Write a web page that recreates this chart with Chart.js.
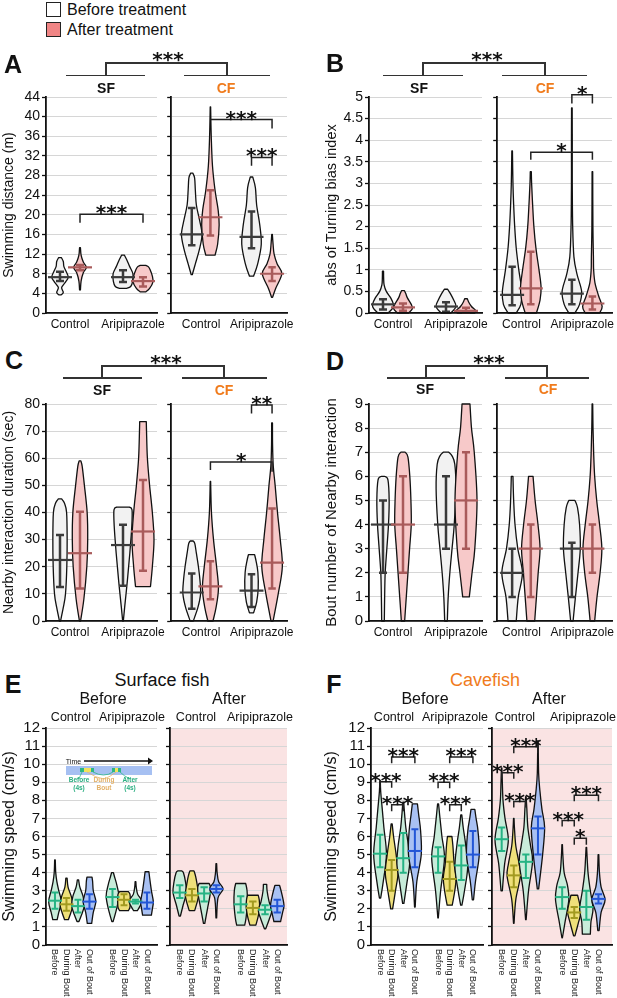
<!DOCTYPE html>
<html>
<head>
<meta charset="utf-8">
<title>Aripiprazole violin plots</title>
<script src="https://cdn.jsdelivr.net/npm/chart.js@4.4.1/dist/chart.umd.min.js"></script>
<style>
  body { margin: 0; background: #fff; }
  #fig { position: relative; width: 617px; height: 998px; overflow: hidden; font-family: "Liberation Sans", Arial, sans-serif; color: #111; }
  #fig canvas { position: absolute; }
  .t { position: absolute; white-space: nowrap; line-height: 1; transform: translate(-50%, -50%); }
  .stars { font-family: "DejaVu Sans", sans-serif; font-weight: bold; }
  .ln { position: absolute; background: #333; }
  .box { position: absolute; width: 13px; height: 13px; border: 1.5px solid #222; }
</style>
</head>
<body>
<div id="fig"></div>
<script>
// Violin plots: before / after aripiprazole treatment, surface fish (SF) vs cavefish (CF)

const groups = ['Control', 'Aripiprazole'];
const phases = ['Before', 'During Bout', 'After', 'Out of Bout'];

// Panels A-D: order is SF ctrl before, SF ctrl after, SF ari before, SF ari after, then the same for CF
// violin shapes are [value, relative width] from min to max

// A - swimming distance (m)
const distShapes = [
  [[3.7,0.1],[4.2,0.3],[5.2,0.15],[6.3,0.5],[7.3,0.75],[8.5,0.55],[9.5,0.35],[10.5,0.3],[11.3,0.12]],
  [[4.7,0.04],[6.5,0.1],[8.2,0.3],[9.3,0.58],[10.4,0.3],[11.8,0.1],[13.3,0.04]],
  [[5,0.3],[5.4,0.7],[6.5,0.88],[8,0.9],[9.5,0.6],[10.8,0.35],[11.8,0.12]],
  [[4.3,0.25],[5,0.6],[6.3,0.9],[7.5,0.85],[8.8,0.65],[9.4,0.5],[9.7,0.25]],
  [[7.8,0.05],[10,0.35],[13,0.75],[16,1.0],[19,0.75],[22,0.45],[25,0.35],[27.5,0.28],[28.5,0.1]],
  [[11.8,0.45],[14,0.7],[18,0.85],[21,0.75],[25,0.45],[30,0.2],[36,0.08],[42,0.02]],
  [[7.5,0.2],[10,0.6],[14,0.95],[18,0.8],[22,0.5],[25.5,0.38],[27.7,0.12]],
  [[3.2,0.05],[5,0.35],[8,0.95],[10,0.5],[12,0.2],[14,0.1],[16,0.03]]
];
const distMedian = [7.3, 9.3, 7.3, 6.5, 16, 19.5, 15.5, 8];
const distQ1 = [6.5, 8.7, 6.3, 5.4, 13.8, 15.8, 13.2, 6.5];
const distQ3 = [8.4, 9.8, 8.7, 7.3, 21.4, 25, 20.7, 9.3];
// significance: [from, to, bar level, left end, right end, label]
const distSig = [[1,3,20.1,18.4,18.4,'***'],[5,7,39.4,39.4,37.6,'***'],[6,7,31.7,30,30,'***']];

// B - abs of turning bias index
const biasShapes = [
  [[0,0.45],[0.1,0.85],[0.2,0.95],[0.35,0.7],[0.5,0.3],[0.65,0.1],[0.8,0.06],[0.97,0.05]],
  [[0,0.5],[0.1,0.85],[0.2,0.75],[0.35,0.4],[0.45,0.25],[0.52,0.12]],
  [[0,0.45],[0.15,0.9],[0.3,0.7],[0.45,0.4],[0.55,0.15]],
  [[0,0.8],[0.05,0.9],[0.15,0.5],[0.25,0.25],[0.33,0.12]],
  [[0,0.4],[0.2,0.85],[0.5,0.95],[1,0.65],[1.5,0.4],[2,0.25],[2.5,0.15],[3,0.08],[3.75,0.03]],
  [[0,0.55],[0.3,0.9],[0.6,1.0],[1,0.8],[1.5,0.5],[2,0.3],[2.5,0.18],[3,0.08],[3.27,0.05]],
  [[0,0.3],[0.2,0.75],[0.5,0.95],[0.9,0.5],[1.3,0.2],[2,0.08],[3,0.04],[4,0.04],[4.75,0.03]],
  [[0,0.7],[0.15,0.95],[0.4,0.6],[0.7,0.25],[1,0.12],[1.3,0.1],[2,0.05],[3.27,0.03]]
];
const biasMedian = [0.2, 0.13, 0.15, 0.05, 0.42, 0.57, 0.45, 0.22];
const biasQ1 = [0.08, 0.05, 0.03, 0.01, 0.18, 0.2, 0.2, 0.08];
const biasQ3 = [0.32, 0.22, 0.25, 0.12, 1.07, 1.42, 0.77, 0.38];
const biasSig = [[6,7,5.05,4.85,4.85,'*'],[5,7,3.72,3.55,3.55,'*']];

// C - nearby interaction duration (sec)
const durShapes = [
  [[0,0.05],[5,0.3],[10,0.5],[20,0.62],[30,0.65],[40,0.6],[43.5,0.4],[45,0.15]],
  [[0,0.05],[8,0.35],[20,0.62],[30,0.7],[40,0.65],[50,0.4],[57,0.2],[59,0.08]],
  [[0,0.03],[5,0.15],[15,0.4],[25,0.62],[35,0.8],[41,0.82],[42,0.55]],
  [[12.7,0.68],[20,0.85],[30,1.0],[40,0.85],[50,0.6],[60,0.4],[70,0.32],[73.5,0.3]],
  [[0,0.15],[5,0.6],[10,0.86],[15,0.8],[20,0.65],[25,0.45],[28.5,0.3],[29.5,0.15]],
  [[0,0.25],[5,0.55],[12,0.78],[20,0.6],[30,0.3],[40,0.1],[51.5,0.02]],
  [[3,0.2],[7,0.5],[12,0.65],[18,0.62],[22,0.45],[24.5,0.3]],
  [[0,0.1],[10,0.6],[20,1.0],[30,0.8],[40,0.53],[50,0.3],[57,0.12],[65,0.05],[73,0.04]]
];
const durMedian = [22.5, 25, 28, 33, 10.5, 12.8, 11.2, 21.5];
const durQ1 = [12.5, 12, 13, 18.5, 4.5, 8, 5.2, 12];
const durQ3 = [31.7, 40.3, 35.5, 52, 17.5, 22, 17.2, 41.5];
const durSig = [[6,7,79.6,76.5,76.5,'**'],[5,7,58.6,55.7,55,'*']];

// D - bout number of nearby interaction
const boutShapes = [
  [[0,0.12],[1,0.15],[2,0.2],[3,0.35],[4,0.5],[5,0.56],[5.85,0.45],[6,0.15]],
  [[0,0.15],[1,0.3],[2,0.45],[3,0.6],[4,0.75],[5,0.72],[6,0.62],[6.8,0.45],[7,0.2]],
  [[0,0.12],[1,0.2],[2,0.35],[3,0.55],[4,0.75],[5.5,0.9],[6.5,0.8],[6.85,0.55],[7,0.25]],
  [[1,0.3],[2,0.55],[3,0.8],[5,1.0],[7,0.75],[8,0.5],[9,0.36]],
  [[0,0.4],[1,0.6],[2,1.0],[3,0.55],[4,0.28],[5,0.15],[6,0.08]],
  [[0,0.38],[1,0.55],[2,0.72],[3,0.9],[4,0.7],[5,0.42],[6,0.22]],
  [[0,0.12],[1,0.35],[2,0.6],[3,0.82],[4,0.75],[4.7,0.55],[5,0.3]],
  [[0,0.22],[1,0.45],[2,0.75],[3,0.92],[4,0.7],[5,0.42],[6,0.22],[7,0.12],[8,0.06],[9,0.03]]
];
const boutMedian = [4, 4, 4, 5, 2, 3, 3, 3];
const boutQ1 = [2, 2, 3, 3, 1, 1, 1, 2];
const boutQ3 = [5, 6, 6, 7, 3, 4, 3.25, 4];

// E/F - swimming speed (cm/s); order: before-ctrl x4 phases, before-ari x4, after-ctrl x4, after-ari x4
const sfSpeedShapes = [
  [[1.4,0.35],[1.8,0.6],[2.4,1.0],[3,0.6],[3.5,0.3],[4,0.12],[4.7,0.05]],
  [[1.4,0.3],[1.8,0.7],[2.2,1.0],[2.7,0.75],[3.2,0.25],[3.7,0.1]],
  [[1.3,0.15],[1.8,0.7],[2.2,1.0],[2.7,0.8],[3.2,0.3],[3.6,0.1]],
  [[1.2,0.35],[1.8,0.6],[2.4,1.0],[3,0.6],[3.5,0.5],[3.75,0.4]],
  [[1.3,0.1],[2,0.65],[2.7,1.0],[3.3,0.7],[3.8,0.3],[4,0.15]],
  [[1.9,0.7],[2.1,0.95],[2.5,1.0],[2.8,0.95],[2.95,0.7]],
  [[1.9,0.3],[2.4,1.0],[2.8,0.35],[3.2,0.12],[3.5,0.06]],
  [[1.65,0.7],[2,0.85],[2.4,1.0],[3,0.7],[3.5,0.5],[4.05,0.3]],
  [[1.6,0.1],[2.2,0.5],[2.9,1.0],[3.5,0.85],[4,0.55],[4.1,0.3]],
  [[1.9,0.4],[2.4,0.8],[2.8,1.0],[3.3,0.8],[3.8,0.55],[4.1,0.3]],
  [[1.2,0.1],[2,0.5],[2.8,0.9],[3.2,0.95],[3.4,0.75]],
  [[1.5,0.05],[2.6,0.25],[3.1,1.0],[3.5,0.35],[4,0.12],[4.5,0.05]],
  [[1.1,0.6],[1.5,0.8],[2.3,1.0],[3,0.95],[3.4,0.75]],
  [[1.1,0.45],[1.6,0.8],[2.1,1.0],[2.5,0.95],[2.75,0.8]],
  [[0.9,0.1],[1.4,0.6],[1.9,1.0],[2.4,0.6],[3,0.3],[3.35,0.25]],
  [[1.3,0.5],[1.8,0.8],[2.2,1.0],[2.8,0.7],[3.3,0.35]]
];
const sfSpeedMedian = [2.45, 2.25, 2.15, 2.4, 2.65, 2.5, 2.4, 2.35, 2.9, 2.75, 2.85, 3.1, 2.25, 2.05, 1.95, 2.15];
const sfSpeedQ1 = [2.0, 1.9, 1.8, 2.0, 2.1, 2.2, 2.3, 2.0, 2.6, 2.4, 2.4, 2.9, 1.8, 1.7, 1.7, 1.8];
const sfSpeedQ3 = [2.9, 2.6, 2.5, 2.8, 3.1, 2.8, 2.5, 2.9, 3.3, 3.1, 3.2, 3.3, 2.7, 2.4, 2.2, 2.5];

const cfSpeedShapes = [
  [[2.6,0.1],[3.5,0.5],[5,1.0],[6.5,0.6],[7.5,0.35],[8.5,0.1],[9.1,0.04]],
  [[2,0.15],[3,0.6],[4,1.0],[5,0.7],[6,0.3],[6.7,0.08]],
  [[2.3,0.1],[3.5,0.6],[4.5,1.0],[5.5,0.8],[6.5,0.4],[7.5,0.15],[7.9,0.08]],
  [[2.1,0.05],[3.5,0.3],[5,1.0],[6.3,0.9],[7.2,0.6],[7.8,0.4]],
  [[1.5,0.04],[3,0.4],[4.8,1.0],[6,0.6],[7,0.3],[7.8,0.08]],
  [[2.2,0.4],[3,0.8],[3.7,1.0],[4.5,0.7],[5.5,0.5],[6,0.35]],
  [[2.2,0.1],[3,0.5],[4.3,1.0],[5.5,0.7],[6.5,0.3],[7.2,0.08]],
  [[2.5,0.1],[3.5,0.4],[5,1.0],[6.3,0.8],[7,0.5],[7.5,0.3]],
  [[3,0.1],[4.5,0.45],[5.8,1.0],[7,0.5],[8,0.2],[9,0.1],[9.8,0.03]],
  [[1.2,0.04],[2.5,0.3],[3.8,1.0],[4.5,0.8],[5.5,0.3],[6.5,0.1],[7,0.04]],
  [[1.4,0.04],[3,0.4],[4.6,1.0],[5.5,0.7],[6.5,0.3],[7.5,0.15],[8.2,0.04]],
  [[3.1,0.1],[5,0.7],[6.5,1.0],[7.5,0.6],[8.5,0.3],[9.5,0.1],[11.3,0.03]],
  [[0.4,0.04],[1.2,0.4],[2.5,1.0],[3.3,0.8],[4,0.3],[5,0.1],[5.55,0.04]],
  [[0.5,0.1],[1.2,0.6],[1.8,1.0],[2.3,0.8],[2.75,0.5]],
  [[0.6,0.6],[1.3,0.7],[2,1.0],[3,0.6],[4,0.25],[5.4,0.04]],
  [[0.8,0.1],[1.8,0.4],[2.5,1.0],[3.2,0.4],[4,0.15],[5,0.05]]
];
const cfSpeedMedian = [5.05, 4.15, 4.8, 5.2, 4.9, 3.65, 4.4, 5.0, 5.85, 3.85, 4.6, 6.45, 2.65, 1.8, 2.1, 2.55];
const cfSpeedQ1 = [4.3, 3.0, 4.0, 4.3, 4.0, 3.0, 3.6, 4.3, 5.2, 3.2, 3.7, 5.0, 2.0, 1.5, 1.4, 2.3];
const cfSpeedQ3 = [6.1, 4.7, 6.2, 6.4, 5.4, 4.6, 5.5, 6.3, 6.5, 4.4, 5.0, 7.1, 3.2, 2.1, 3.0, 2.8];
const cfSpeedSig = [
  [0,1,9.03,8.7,8.7,'***'],[1,3,10.4,10.05,10.05,'***'],[1,2,7.75,7.4,7.4,'***'],
  [4,5,9.0,8.67,8.67,'***'],[5,7,10.4,10.05,10.05,'***'],[5,6,7.75,7.4,7.4,'***'],
  [8,9,9.53,9.2,9.2,'***'],[9,11,10.97,10.6,10.6,'***'],[9,10,7.93,7.6,7.6,'***'],
  [12,13,6.88,6.55,6.55,'***'],[13,15,8.28,7.95,7.95,'***'],[13,14,5.9,5.55,5.55,'*']
];

// ---------- drawing ----------
const ORANGE = '#f07b1c';
const AXIS = '#111';
const GRID = '#d6d6d6';
const PINK = '#fae3e3';
const VIOLIN_HALF = 0.55;
const PAD_TOP = 26, PAD_RIGHT = 16;

const treatFill = ['#f2f2f2', '#f7c9c9'];
const treatLine = ['#3b3b3b', '#a95b5b'];
const phaseFill = ['#c8ecda', '#efe07a', '#c8ecda', '#a9c1f3'];
const phaseLine = ['#26b384', '#a29a20', '#26b384', '#2356d6'];

Chart.defaults.font.family = '"Liberation Sans", Arial, sans-serif';
Chart.defaults.color = '#111';

const fig = document.getElementById('fig');

function curveThrough(ctx, pts) {
  for (let i = 0; i < pts.length - 1; i++) {
    const p0 = pts[i - 1] || pts[i], p1 = pts[i], p2 = pts[i + 1], p3 = pts[i + 2] || p2;
    ctx.bezierCurveTo(
      p1[0] + (p2[0] - p0[0]) / 6, p1[1] + (p2[1] - p0[1]) / 6,
      p2[0] - (p3[0] - p1[0]) / 6, p2[1] - (p3[1] - p1[1]) / 6,
      p2[0], p2[1]);
  }
}

function subChart(s) {
  const canvas = document.createElement('canvas');
  canvas.width = s.axisW + s.plotW + PAD_RIGHT;
  canvas.height = PAD_TOP + s.plotH + s.xAxisH;
  canvas.style.left = (s.plotX - s.axisW) + 'px';
  canvas.style.top = (s.plotY - PAD_TOP) + 'px';
  fig.appendChild(canvas);

  const layer = {
    id: 'violinLayer',
    beforeDraw(chart) {
      if (!s.bg) return;
      const a = chart.chartArea, ctx = chart.ctx;
      ctx.save();
      ctx.fillStyle = s.bg;
      ctx.fillRect(a.left, a.top, a.right - a.left, a.bottom - a.top);
      ctx.restore();
    },
    beforeDatasetsDraw(chart) {
      const { ctx, scales: { x, y } } = chart;
      ctx.save();
      s.shapes.forEach((shape, i) => {
        const c = s.xPos[i];
        const side = sgn => shape.map(([v, d]) => [x.getPixelForValue(c + sgn * d * VIOLIN_HALF), y.getPixelForValue(v)]);
        const right = side(1), left = side(-1).reverse();
        ctx.beginPath();
        ctx.moveTo(right[0][0], right[0][1]);
        curveThrough(ctx, right);
        ctx.lineTo(left[0][0], left[0][1]);
        curveThrough(ctx, left);
        ctx.closePath();
        ctx.fillStyle = s.fills[i];
        ctx.fill();
        ctx.lineWidth = 1.3;
        ctx.lineJoin = 'round';
        ctx.strokeStyle = '#111';
        ctx.stroke();

        const px = x.getPixelForValue(c);
        const y1 = y.getPixelForValue(s.q1[i]), y3 = y.getPixelForValue(s.q3[i]);
        const cl = x.getPixelForValue(c - s.cap), cr = x.getPixelForValue(c + s.cap);
        ctx.beginPath();
        ctx.moveTo(px, y1); ctx.lineTo(px, y3);
        ctx.moveTo(cl, y1); ctx.lineTo(cr, y1);
        ctx.moveTo(cl, y3); ctx.lineTo(cr, y3);
        ctx.strokeStyle = s.lineColors[i];
        ctx.lineWidth = s.barW;
        ctx.stroke();
      });
      ctx.restore();
    },
    afterDatasetsDraw(chart) {
      const { ctx, scales: { x, y } } = chart;
      ctx.save();
      ctx.strokeStyle = '#222';
      ctx.lineWidth = 1.5;
      ctx.fillStyle = '#111';
      ctx.font = 'bold 20px "DejaVu Sans"';
      ctx.textAlign = 'center';
      ctx.textBaseline = 'alphabetic';
      s.sig.forEach(([a, b, lv, ea, eb, txt]) => {
        const xa = x.getPixelForValue(s.xPos[a]), xb = x.getPixelForValue(s.xPos[b]);
        const yl = y.getPixelForValue(lv);
        ctx.beginPath();
        ctx.moveTo(xa, y.getPixelForValue(ea));
        ctx.lineTo(xa, yl);
        ctx.lineTo(xb, yl);
        ctx.lineTo(xb, y.getPixelForValue(eb));
        ctx.stroke();
        ctx.fillText(txt, (xa + xb) / 2, yl + 5);
      });

      // vertical phase labels under the E/F axes
      if (s.rotLabels) {
        ctx.font = '9px "Liberation Sans", Arial, sans-serif';
        ctx.fillStyle = '#222';
        ctx.textAlign = 'left';
        ctx.textBaseline = 'middle';
        s.xPos.forEach((v, i) => {
          ctx.save();
          ctx.translate(x.getPixelForValue(v), chart.chartArea.bottom + 4);
          ctx.rotate(Math.PI / 2);
          ctx.fillText(s.rotLabels[i], 0, 0);
          ctx.restore();
        });
      }
      ctx.restore();
    }
  };

  return new Chart(canvas, {
    type: 'scatter',
    data: {
      datasets: [{
        data: s.med.map((m, i) => ({ x: s.xPos[i], y: m })),
        pointStyle: 'line',
        pointRadius: s.medLen,
        pointBorderWidth: s.medW,
        pointBorderColor: s.lineColors,
        pointBackgroundColor: s.lineColors
      }]
    },
    options: {
      responsive: false,
      animation: false,
      events: [],
      layout: { padding: { top: PAD_TOP, right: PAD_RIGHT, bottom: 0, left: 0 } },
      plugins: { legend: { display: false }, tooltip: { enabled: false } },
      scales: {
        x: {
          type: 'linear',
          min: s.xMin,
          max: s.xMax,
          afterBuildTicks: sc => { sc.ticks = s.tickVals.map(v => ({ value: v })); },
          afterFit: sc => { sc.height = s.xAxisH; },
          grid: { display: false, drawTicks: false },
          border: { color: AXIS, width: 1.8, z: 1 },
          ticks: {
            display: !s.rotLabels,
            autoSkip: false,
            maxRotation: 0,
            minRotation: 0,
            padding: s.xPad,
            color: '#111',
            font: { size: 12 },
            callback: (v, i) => s.tickText[i]
          }
        },
        y: {
          min: 0,
          max: s.yMax,
          afterFit: sc => { sc.width = s.axisW; },
          grid: { color: GRID, lineWidth: 1, tickColor: AXIS, tickLength: 4, tickWidth: 1.3 },
          border: { color: AXIS, width: 1.8, z: 1 },
          ticks: {
            display: s.showY,
            autoSkip: false,
            stepSize: s.yStep,
            padding: 2,
            color: '#111',
            font: { size: s.yTickSize },
            callback: v => String(+v.toFixed(2))
          },
          title: {
            display: !!s.title,
            text: s.title,
            color: '#111',
            font: { size: s.titleSize },
            padding: { top: s.titlePad, bottom: 0 }
          }
        }
      }
    },
    plugins: [layer]
  });
}

// splits one panel's arrays over its two sub-panels
function violinPanel(p) {
  p.subs.forEach((L, k) => {
    const from = k * p.per, to = from + p.per;
    const colorIdx = i => p.per === 4 ? i % 2 : i % 4;
    const fills = p.per === 4 ? treatFill : phaseFill;
    const lines = p.per === 4 ? treatLine : phaseLine;
    subChart(Object.assign({}, p.common, L, {
      shapes: p.shapes.slice(from, to),
      med: p.med.slice(from, to),
      q1: p.q1.slice(from, to),
      q3: p.q3.slice(from, to),
      fills: p.shapes.slice(from, to).map((_, i) => fills[colorIdx(i)]),
      lineColors: p.shapes.slice(from, to).map((_, i) => lines[colorIdx(i)]),
      sig: (p.sig || []).filter(g => g[0] >= from && g[0] < to)
        .map(g => [g[0] - from, g[1] - from].concat(g.slice(2)))
    }));
  });
}

const sfPos = [0, 1, 3.15, 4.15], cfPos = [0, 1, 3.2, 4.3];
const phasePos = [0, 1, 2, 3, 5, 6, 7, 8];
const barCommon = { xAxisH: 26, xPad: 4, medLen: 12, medW: 2.2, cap: 0.2, barW: 2.5, tickText: groups };
const speedCommon = { xAxisH: 56, xPad: 0, medLen: 7, medW: 2, cap: 0.3, barW: 2, yMax: 12, yStep: 1, yTickSize: 15,
  tickVals: phasePos, xPos: phasePos, tickText: [], rotLabels: phases.concat(phases) };

function leftCol(row, title, titleSize, titlePad) {
  return [
    { plotX: 46, plotW: 111, xMin: -0.7, xMax: 4.85, xPos: sfPos, tickVals: [0.5, 3.65], axisW: 46, showY: true,
      title: title, titleSize: titleSize, titlePad: titlePad, plotY: row.y, plotH: row.h },
    { plotX: 163, plotW: 124, xMin: -1.1, xMax: 5.1, xPos: cfPos, tickVals: [0.5, 3.75], axisW: 6, showY: false,
      plotY: row.y, plotH: row.h }
  ];
}
function rightCol(row, title, titleSize, titlePad) {
  return [
    { plotX: 369, plotW: 113, xMin: -0.7, xMax: 4.95, xPos: sfPos, tickVals: [0.5, 3.65], axisW: 50, showY: true,
      title: title, titleSize: titleSize, titlePad: titlePad, plotY: row.y, plotH: row.h },
    { plotX: 489, plotW: 123, xMin: -0.8, xMax: 5.35, xPos: cfPos, tickVals: [0.5, 3.75], axisW: 6, showY: false,
      plotY: row.y, plotH: row.h }
  ];
}

const row1 = { y: 97, h: 216 }, row2 = { y: 404, h: 217 }, row3 = { y: 728, h: 217 };

violinPanel({ per: 4, shapes: distShapes, med: distMedian, q1: distQ1, q3: distQ3, sig: distSig,
  common: Object.assign({ yMax: 44, yStep: 4, yTickSize: 14 }, barCommon),
  subs: leftCol(row1, 'Swimming distance (m)', 14, 0.5) });
violinPanel({ per: 4, shapes: biasShapes, med: biasMedian, q1: biasQ1, q3: biasQ3, sig: biasSig,
  common: Object.assign({ yMax: 5, yStep: 0.5, yTickSize: 14 }, barCommon),
  subs: rightCol(row1, 'abs of Turning bias index', 14.5, 4) });
violinPanel({ per: 4, shapes: durShapes, med: durMedian, q1: durQ1, q3: durQ3, sig: durSig,
  common: Object.assign({ yMax: 80, yStep: 10, yTickSize: 14 }, barCommon),
  subs: leftCol(row2, 'Nearby interaction duration (sec)', 14, 0.3) });
violinPanel({ per: 4, shapes: boutShapes, med: boutMedian, q1: boutQ1, q3: boutQ3, sig: [],
  common: Object.assign({ yMax: 9, yStep: 1, yTickSize: 15 }, barCommon),
  subs: rightCol(row2, 'Bout number of Nearby interaction', 15, 3.5) });

violinPanel({ per: 8, shapes: sfSpeedShapes, med: sfSpeedMedian, q1: sfSpeedQ1, q3: sfSpeedQ3, sig: [],
  common: speedCommon,
  subs: [
    { plotX: 46, plotW: 111, xMin: -0.78, xMax: 8.87, axisW: 46, showY: true, title: 'Swimming speed (cm/s)',
      titleSize: 16, titlePad: 0, plotY: row3.y, plotH: row3.h },
    { plotX: 167, plotW: 120, xMin: -0.8, xMax: 8.8, axisW: 6, showY: false, bg: PINK, plotY: row3.y, plotH: row3.h }
  ] });
violinPanel({ per: 8, shapes: cfSpeedShapes, med: cfSpeedMedian, q1: cfSpeedQ1, q3: cfSpeedQ3, sig: cfSpeedSig,
  common: speedCommon,
  subs: [
    { plotX: 371, plotW: 112, xMin: -0.78, xMax: 8.87, axisW: 52, showY: true, title: 'Swimming speed (cm/s)',
      titleSize: 16, titlePad: 2.5, plotY: row3.y, plotH: row3.h },
    { plotX: 489, plotW: 123, xMin: -0.8, xMax: 9.12, axisW: 6, showY: false, bg: PINK, plotY: row3.y, plotH: row3.h }
  ] });

// ---------- text, legend and SF-vs-CF brackets ----------
function label(str, x, y, size, opt) {
  opt = opt || {};
  const d = document.createElement('div');
  d.className = 't' + (opt.cls ? ' ' + opt.cls : '');
  d.textContent = str;
  d.style.left = x + 'px';
  d.style.top = y + 'px';
  d.style.fontSize = size + 'px';
  if (opt.bold) d.style.fontWeight = 'bold';
  if (opt.color) d.style.color = opt.color;
  fig.appendChild(d);
  return d;
}
function rule(x1, y1, x2, y2) {
  const d = document.createElement('div');
  d.className = 'ln';
  d.style.left = (Math.min(x1, x2) - 0.75) + 'px';
  d.style.top = (Math.min(y1, y2) - 0.75) + 'px';
  d.style.width = (Math.abs(x2 - x1) + 1.5) + 'px';
  d.style.height = (Math.abs(y2 - y1) + 1.5) + 'px';
  fig.appendChild(d);
}
function topBracket(b) {
  rule(b.mid[0], b.top, b.mid[1], b.top);
  rule(b.mid[0], b.top, b.mid[0], b.low);
  rule(b.mid[1], b.top, b.mid[1], b.low);
  rule(b.sf[0], b.low, b.sf[1], b.low);
  rule(b.cf[0], b.low, b.cf[1], b.low);
  label('***', b.star[0], b.star[1] + 4, 20, { cls: 'stars' });
  label('SF', b.sfText[0], b.sfText[1], 14, { bold: true });
  label('CF', b.cfText[0], b.cfText[1], 14, { bold: true, color: ORANGE });
}

// legend
const box1 = document.createElement('div');
box1.className = 'box'; box1.style.left = '46px'; box1.style.top = '2px'; box1.style.background = '#fff';
fig.appendChild(box1);
const box2 = document.createElement('div');
box2.className = 'box'; box2.style.left = '46px'; box2.style.top = '22px'; box2.style.background = '#f08585';
fig.appendChild(box2);
label('Before treatment', 67, 10, 16).style.transform = 'translate(0,-50%)';
label('After treatment', 67, 29.5, 16).style.transform = 'translate(0,-50%)';

// panel letters
[['A', 13, 63.5], ['B', 335, 62.5], ['C', 14, 359.5], ['D', 335, 361], ['E', 13, 683.5], ['F', 334, 683.5]]
  .forEach(([t, x, y]) => label(t, x, y, 25, { bold: true }));

topBracket({ mid: [106, 227], top: 63, low: 75.5, sf: [67, 144], cf: [185, 269], star: [168, 55], sfText: [106, 87.5], cfText: [226, 87.5] });
topBracket({ mid: [423, 545], top: 63, low: 75.5, sf: [384, 462], cf: [503, 586], star: [487, 55], sfText: [419, 88], cfText: [545, 88] });
topBracket({ mid: [102, 224], top: 366, low: 378, sf: [64, 141], cf: [183, 266], star: [166, 358], sfText: [102, 390], cfText: [224, 390] });
topBracket({ mid: [426, 547], top: 366, low: 378, sf: [388, 464], cf: [506, 588], star: [489, 358], sfText: [425, 389], cfText: [548, 389] });

// E / F headers
label('Surface fish', 162, 680, 18);
label('Before', 103, 699, 16);
label('After', 229, 699, 16);
label('Cavefish', 485, 680, 18, { color: ORANGE });
label('Before', 425, 699, 16);
label('After', 549, 699, 16);
[[71, groups[0]], [132, groups[1]], [196, groups[0]], [260, groups[1]],
 [394, groups[0]], [455, groups[1]], [515, groups[0]], [583, groups[1]]]
  .forEach(([x, t]) => label(t, x, 716.5, 12.5));

// inset sketch of a bout in panel E
const svgNS = 'http://www.w3.org/2000/svg';
const inset = document.createElementNS(svgNS, 'svg');
inset.setAttribute('width', '100');
inset.setAttribute('height', '30');
inset.style.position = 'absolute';
inset.style.left = '60px';
inset.style.top = '752px';
inset.innerHTML =
  '<line x1="24" y1="9" x2="89" y2="9" stroke="#111" stroke-width="1.4"/>' +
  '<polygon points="88,5.5 93,9 88,12.5" fill="#111"/>' +
  '<rect x="6" y="14" width="86" height="9" fill="#a6c0f2"/>' +
  '<rect x="20" y="16" width="4" height="4" fill="#2db886"/>' +
  '<rect x="24" y="16" width="7" height="4" fill="#f3e35c"/>' +
  '<rect x="31" y="16" width="3" height="4" fill="#2db886"/>' +
  '<rect x="52" y="16" width="3" height="4" fill="#2db886"/>' +
  '<rect x="55" y="16" width="3" height="4" fill="#f3e35c"/>' +
  '<rect x="58" y="16" width="3" height="4" fill="#2db886"/>' +
  '<path d="M22 20 Q20 24 19 27 M33 20 Q44 26 53 20 M60 20 Q64 24 70 27" stroke="#2db886" stroke-width="0.8" fill="none"/>' +
  '<path d="M27 20 Q36 26 44 27 M56 20 Q50 25 44 27" stroke="#e8b86a" stroke-width="0.8" fill="none"/>';
fig.appendChild(inset);
label('Time', 73.5, 760.5, 7);
[['Before', 79, '#2aae80'], ['During', 104, '#e3b066'], ['After', 130, '#2aae80']]
  .forEach(([t, x, c]) => label(t, x, 780, 6.5, { bold: true, color: c }));
[['(4s)', 79, '#2aae80'], ['Bout', 104, '#e3b066'], ['(4s)', 130, '#2aae80']]
  .forEach(([t, x, c]) => label(t, x, 787.5, 6.5, { bold: true, color: c }));
</script>
</body>
</html>
